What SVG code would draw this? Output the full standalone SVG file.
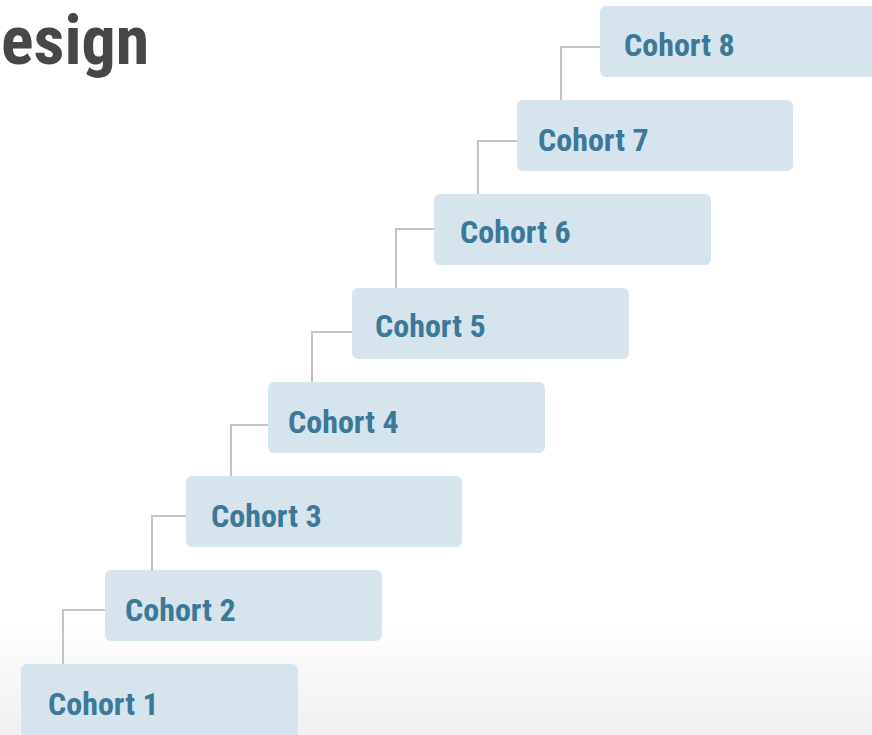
<svg xmlns="http://www.w3.org/2000/svg" width="872" height="735" viewBox="0 0 872 735">
<defs>
<linearGradient id="bg" x1="0" y1="0" x2="0" y2="1">
<stop offset="0" stop-color="#ffffff"/>
<stop offset="1" stop-color="#f0f0f0"/>
</linearGradient>
<style>
.box{fill:#d6e4ee;}
.lbl{font-family:"Liberation Sans Narrow","Roboto Condensed","Liberation Sans",sans-serif;font-weight:bold;font-size:32px;fill:#3d7899;}
.conn{fill:none;stroke:#c3c3c3;stroke-width:2;}
.title{font-family:"Liberation Sans Narrow","Roboto Condensed","Liberation Sans",sans-serif;font-weight:bold;font-size:68px;fill:#474747;}
</style>
</defs>
<rect x="0" y="0" width="872" height="735" fill="#ffffff"/>
<rect x="0" y="620" width="872" height="115" fill="url(#bg)"/>
<text class="title" x="1" y="64">esign</text>
<g id="connectors">
<path class="conn" d="M105,610 H63 V664"/>
<path class="conn" d="M186,516 H152 V570"/>
<path class="conn" d="M268,425 H231 V476"/>
<path class="conn" d="M352,332 H312 V382"/>
<path class="conn" d="M434,229 H396 V288"/>
<path class="conn" d="M517,141 H478 V194"/>
<path class="conn" d="M600,47 H561 V100"/>
</g>
<g id="cohort1"><rect class="box" x="21" y="664" width="277" height="80" rx="6"/><text class="lbl" x="48" y="715">Cohort 1</text></g>
<g id="cohort2"><rect class="box" x="105" y="570" width="277" height="71" rx="6"/><text class="lbl" x="125" y="621">Cohort 2</text></g>
<g id="cohort3"><rect class="box" x="186" y="476" width="276" height="71" rx="6"/><text class="lbl" x="211" y="527">Cohort 3</text></g>
<g id="cohort4"><rect class="box" x="268" y="382" width="277" height="71" rx="6"/><text class="lbl" x="288" y="433">Cohort 4</text></g>
<g id="cohort5"><rect class="box" x="352" y="288" width="277" height="71" rx="6"/><text class="lbl" x="375" y="337">Cohort 5</text></g>
<g id="cohort6"><rect class="box" x="434" y="194" width="277" height="71" rx="6"/><text class="lbl" x="460" y="243">Cohort 6</text></g>
<g id="cohort7"><rect class="box" x="517" y="100" width="276" height="71" rx="6"/><text class="lbl" x="538" y="151">Cohort 7</text></g>
<g id="cohort8"><rect class="box" x="600" y="6" width="282" height="71" rx="6"/><text class="lbl" x="624" y="56">Cohort 8</text></g>
</svg>
